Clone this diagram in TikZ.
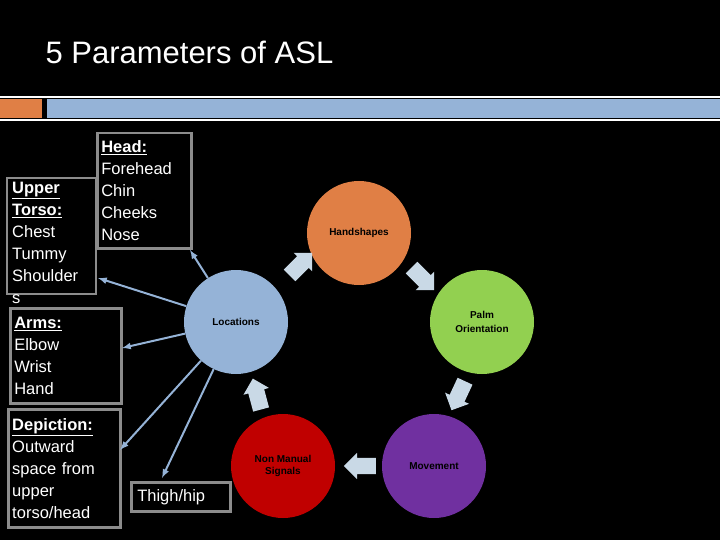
\documentclass[tikz,border=0pt]{standalone}
\usepackage{fontspec}
\setmainfont{Liberation Sans}
\usetikzlibrary{shapes.arrows}
\definecolor{locblue}{HTML}{95B3D7}
\definecolor{hsorange}{HTML}{E07F45}
\definecolor{palmgreen}{HTML}{92D050}
\definecolor{movpurple}{HTML}{7030A0}
\definecolor{nmred}{HTML}{C00000}
\definecolor{blockarr}{HTML}{C9D9E6}
\definecolor{boxgray}{HTML}{8C8C8C}
\begin{document}
\begin{tikzpicture}[x=1pt,y=-1pt,
  param/.style={circle, minimum size=104pt, inner sep=0pt, align=center,
    font=\fontsize{10}{12}\selectfont\bfseries},
  cyclearr/.style={single arrow, fill=blockarr, minimum height=32pt, inner sep=8pt,
    single arrow head extend=5pt},
  boxtext/.style={anchor=north west, text=white, align=left, inner sep=4pt,
    font=\fontsize{16.5}{22}\selectfont},
  boxframe/.style={draw=boxgray, line width=2.5pt},
  link/.style={draw=locblue, line width=2pt, -latex}]
\fill[black] (0,0) rectangle (720,540);
\useasboundingbox (0,0) rectangle (720,540);
% title band
\node[anchor=base west, text=white, font=\fontsize{31}{36}\selectfont] (title) at (42,64) {5 Parameters of ASL};
\draw[white, line width=2pt] (0,97) -- (720,97);
\fill[hsorange] (0,99) rectangle (42,118);
\fill[locblue] (47,99) rectangle (720,118);
\draw[white, line width=2pt] (0,120) -- (720,120);
% circles
\node[param, fill=hsorange] (hs) at (359,233) {Handshapes};
\node[param, fill=palmgreen] (palm) at (482,322) {Palm\\[2pt]Orientation};
\node[param, fill=movpurple] (mov) at (434,466) {Movement};
\node[param, fill=nmred] (nm) at (283,466) {Non Manual\\Signals};
\node[param, fill=locblue] (loc) at (236,322) {Locations};
% block arrows
\node[cyclearr, rotate=45] (a1) at (298,267) {};
\node[cyclearr, rotate=-45] (a2) at (420,276) {};
\node[cyclearr, rotate=-115] (a3) at (460,392) {};
\node[cyclearr, rotate=180] (a4) at (364,466) {};
\node[cyclearr, rotate=105] (a5) at (258,398) {};
% body boxes
\draw[boxframe] (7,178) rectangle (96,294);
\node[boxtext] (torso) at (8,178) {\underline{\textbf{Upper}}\\\underline{\textbf{Torso:}}\\Chest\\Tummy\\Shoulder\\s};
\node[boxtext, boxframe, text width=86pt, minimum height=115pt] (head) at (96,132) {\underline{\textbf{Head:}}\\Forehead\\Chin\\Cheeks\\Nose};
\node[boxtext, boxframe, text width=103pt, minimum height=95pt] (arms) at (9,307) {\underline{\textbf{Arms:}}\\Elbow\\Wrist\\Hand};
\node[boxtext, boxframe, text width=104pt, minimum height=118pt] (dep) at (7,408) {\underline{\textbf{Depiction:}}\\Outward\\space from\\upper\\torso/head};
\node[boxtext, boxframe, text width=87pt, minimum height=29pt, inner sep=6pt] (thigh) at (130,481) {Thigh/hip};
% links
\coordinate (hp) at (190,250);
\coordinate (tp) at (98,278);
\coordinate (ap) at (122,348);
\coordinate (dp) at (120,450);
\coordinate (thp) at (162,478);
\draw[link] (loc) -- (hp);
\draw[link] (loc) -- (tp);
\draw[link] (loc) -- (ap);
\draw[link] (loc) -- (dp);
\draw[link] (loc) -- (thp);
\end{tikzpicture}
\end{document}
